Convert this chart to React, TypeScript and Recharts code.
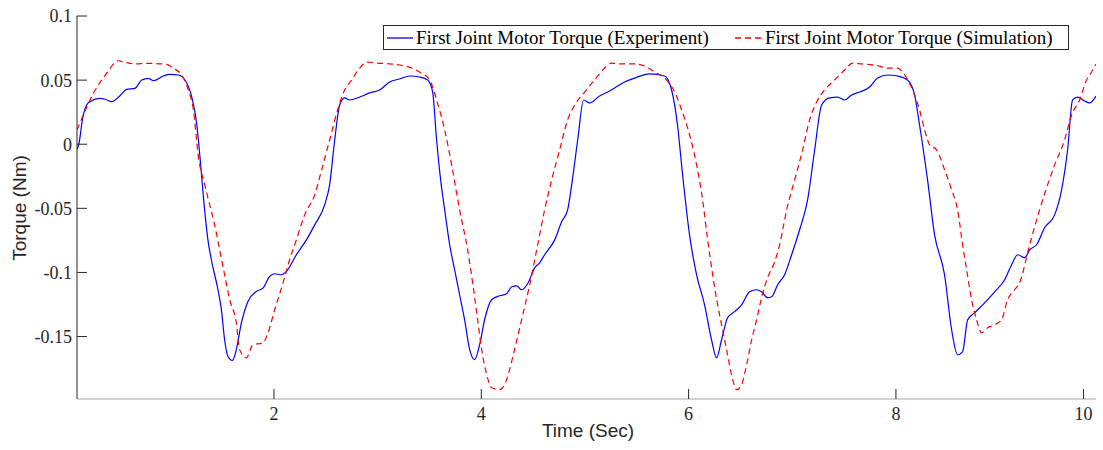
import { LineChart, Line, XAxis, YAxis, Legend } from 'recharts';

// time (s) and torque (Nm)
const expTime = [
  0.1, 0.12, 0.155, 0.193, 0.225, 0.322, 0.377, 0.434, 0.512, 0.579,
  0.659, 0.724, 0.788, 0.837, 0.933, 0.997, 1.078, 1.142, 1.206, 1.254,
  1.286, 1.322, 1.363, 1.396, 1.46, 1.493, 1.524, 1.556, 1.599, 1.637,
  1.686, 1.749, 1.83, 1.894, 1.959, 2.007, 2.071, 2.12, 2.216, 2.313,
  2.393, 2.489, 2.537, 2.586, 2.634, 2.682, 2.73, 2.827, 2.923, 3.02,
  3.116, 3.212, 3.309, 3.405, 3.483, 3.531, 3.569, 3.608, 3.647, 3.695,
  3.743, 3.791, 3.839, 3.888, 3.936, 3.984, 4.032, 4.1, 4.177, 4.245,
  4.293, 4.341, 4.389, 4.447, 4.515, 4.563, 4.611, 4.708, 4.775, 4.833,
  4.872, 4.93, 4.987, 5.045, 5.141, 5.218, 5.286, 5.382, 5.479, 5.624,
  5.768, 5.836, 5.893, 5.942, 6.009, 6.077, 6.154, 6.221, 6.27, 6.318,
  6.376, 6.444, 6.511, 6.588, 6.656, 6.704, 6.762, 6.801, 6.859, 6.926,
  6.994, 7.071, 7.148, 7.216, 7.283, 7.36, 7.437, 7.505, 7.572, 7.65,
  7.746, 7.823, 7.92, 8.016, 8.112, 8.18, 8.228, 8.305, 8.373, 8.469,
  8.537, 8.595, 8.643, 8.692, 8.759, 8.856, 8.952, 9.049, 9.116, 9.174,
  9.242, 9.29, 9.357, 9.434, 9.531, 9.598, 9.656, 9.704, 9.752, 9.82,
  9.868, 9.93,
];
const expTorque = [
  -0.004, 0.001, 0.0205, 0.0306, 0.0332, 0.0358, 0.0349, 0.0332, 0.0376, 0.0428,
  0.0436, 0.0501, 0.0514, 0.0495, 0.0532, 0.0545, 0.054, 0.0501, 0.0371, 0.0164,
  -0.0097, -0.0434, -0.0746, -0.0901, -0.1135, -0.129, -0.1525, -0.1655, -0.1686, -0.1602,
  -0.1394, -0.1226, -0.1148, -0.1122, -0.1031, -0.101, -0.1018, -0.0992, -0.0862, -0.0746,
  -0.0629, -0.0473, -0.0317, 0.0033, 0.0306, 0.0361, 0.0345, 0.0368, 0.04, 0.0423,
  0.0485, 0.0509, 0.0532, 0.0524, 0.0501, 0.0407, 0.0033, -0.0278, -0.0512, -0.0784,
  -0.0979, -0.1174, -0.1369, -0.1602, -0.168, -0.1563, -0.1369, -0.1213, -0.1182, -0.1166,
  -0.1112, -0.1104, -0.1135, -0.1088, -0.0964, -0.0925, -0.0862, -0.0746, -0.0605, -0.0512,
  -0.0317, 0.0033, 0.0345, 0.0322, 0.0376, 0.0407, 0.0439, 0.0485, 0.0516, 0.0548,
  0.0532, 0.0423, 0.015, -0.0239, -0.0707, -0.1018, -0.1252, -0.1525, -0.1666, -0.1525,
  -0.1353, -0.1306, -0.1252, -0.1151, -0.1135, -0.1151, -0.1197, -0.119, -0.1096, -0.1018,
  -0.0862, -0.0667, -0.0434, -0.0045, 0.0306, 0.0361, 0.0368, 0.0345, 0.0384, 0.0407,
  0.0446, 0.0516, 0.054, 0.0532, 0.0501, 0.0384, 0.015, -0.0278, -0.0707, -0.1018,
  -0.1447, -0.1642, -0.1619, -0.1369, -0.1315, -0.1237, -0.1151, -0.1057, -0.094, -0.0862,
  -0.0885, -0.0823, -0.0784, -0.0652, -0.0551, -0.0356, -0.0045, 0.0345, 0.0368, 0.0337,
  0.0322, 0.0376,
];

const simTime = [
  0.1, 0.161, 0.258, 0.386, 0.499, 0.547, 0.659, 0.772, 0.965, 1.03,
  1.11, 1.174, 1.223, 1.271, 1.332, 1.38, 1.428, 1.476, 1.524, 1.573,
  1.637, 1.669, 1.734, 1.797, 1.894, 1.942, 2.007, 2.087, 2.151, 2.216,
  2.296, 2.393, 2.46, 2.537, 2.614, 2.682, 2.75, 2.827, 2.904, 3.0,
  3.116, 3.212, 3.328, 3.405, 3.502, 3.569, 3.647, 3.714, 3.791, 3.868,
  3.926, 3.965, 4.004, 4.052, 4.1, 4.177, 4.225, 4.273, 4.321, 4.389,
  4.467, 4.544, 4.611, 4.679, 4.756, 4.833, 4.901, 4.997, 5.093, 5.19,
  5.257, 5.354, 5.479, 5.576, 5.672, 5.769, 5.865, 5.933, 6.01, 6.077,
  6.135, 6.184, 6.232, 6.28, 6.328, 6.376, 6.425, 6.463, 6.511, 6.56,
  6.608, 6.656, 6.704, 6.762, 6.83, 6.878, 6.946, 7.023, 7.1, 7.167,
  7.235, 7.312, 7.408, 7.505, 7.582, 7.669, 7.794, 7.92, 8.016, 8.084,
  8.161, 8.228, 8.277, 8.325, 8.392, 8.47, 8.537, 8.595, 8.643, 8.682,
  8.73, 8.778, 8.826, 8.884, 8.952, 9.019, 9.077, 9.145, 9.193, 9.29,
  9.386, 9.463, 9.531, 9.627, 9.695, 9.772, 9.839, 9.887, 9.93,
];
const simTorque = [
  0.0111, 0.0228, 0.0397, 0.0553, 0.0651, 0.0643, 0.0626, 0.0631, 0.0623, 0.0592,
  0.054, 0.0423, 0.0267, -0.0097, -0.0317, -0.0473, -0.0629, -0.0823, -0.1018, -0.1213,
  -0.1394, -0.1602, -0.1667, -0.1563, -0.155, -0.1472, -0.1291, -0.1083, -0.0901, -0.0746,
  -0.0551, -0.0395, -0.02, 0.0033, 0.0267, 0.0423, 0.0501, 0.0594, 0.0641, 0.0633,
  0.0626, 0.0618, 0.0594, 0.0563, 0.0501, 0.0345, 0.0111, -0.0161, -0.0512, -0.0823,
  -0.1135, -0.1369, -0.1602, -0.1797, -0.1899, -0.1914, -0.1875, -0.1758, -0.1602, -0.1369,
  -0.1096, -0.0784, -0.0512, -0.0278, -0.0044, 0.019, 0.0306, 0.0407, 0.0501, 0.0594,
  0.0633, 0.0626, 0.0626, 0.061, 0.0563, 0.0516, 0.0407, 0.0267, 0.0072, -0.0161,
  -0.0434, -0.0746, -0.1018, -0.1252, -0.1447, -0.1642, -0.1836, -0.1914, -0.1875, -0.1719,
  -0.1525, -0.1369, -0.1197, -0.1041, -0.0917, -0.0784, -0.0512, -0.0278, -0.0044, 0.019,
  0.0329, 0.0423, 0.0501, 0.0579, 0.0633, 0.0626, 0.0618, 0.0594, 0.0594, 0.054,
  0.0423, 0.0267, 0.0111, -0.0005, -0.0044, -0.02, -0.0356, -0.0512, -0.0784, -0.0979,
  -0.1213, -0.1369, -0.147, -0.1431, -0.1408, -0.1369, -0.1213, -0.1135, -0.108, -0.0784,
  -0.0512, -0.0317, -0.0161, 0.0033, 0.0228, 0.0345, 0.0501, 0.0563, 0.0626,
];

const yTicks = [-0.15, -0.1, -0.05, 0, 0.05, 0.1];
// the figure's "10" tick sits a little left of where 10 s would fall
const xTicks = [2, 4, 6, 8, 9.81];

const expData = expTime.map((t, i) => ({ t, v: expTorque[i] }));
const simData = simTime.map((t, i) => ({ t, v: simTorque[i] }));

const serif = '"Liberation Serif", "Times New Roman", serif';
const sans = '"Liberation Sans", Arial, sans-serif';
const axisColor = '#262626';

function LegendBox() {
  return (
    <div
      style={{
        position: 'relative',
        width: 684,
        height: 23,
        border: '1px solid #262626',
        background: '#fff',
        fontFamily: serif,
        fontSize: 19,
        color: '#000',
        whiteSpace: 'nowrap',
      }}
    >
      <svg width={30} height={23} style={{ position: 'absolute', left: 3, top: 0 }}>
        <line x1={0} x2={26} y1={12} y2={12} stroke="#0000ff" strokeWidth={1.3} />
      </svg>
      <span style={{ position: 'absolute', left: 32, top: 0, lineHeight: '23px' }}>
        First Joint Motor Torque (Experiment)
      </span>
      <svg width={30} height={23} style={{ position: 'absolute', left: 351, top: 0 }}>
        <line x1={0} x2={28} y1={12} y2={12} stroke="#ff0000" strokeWidth={1.3} strokeDasharray="6 4" />
      </svg>
      <span style={{ position: 'absolute', left: 381, top: 0, lineHeight: '23px' }}>
        First Joint Motor Torque (Simulation)
      </span>
    </div>
  );
}

export default function App() {
  return (
    <div style={{ position: 'absolute', left: 0, top: 0, width: 1103, height: 450, background: '#fff' }}>
      <LineChart width={1103} height={450} margin={{ top: 16, right: 7, bottom: 21, left: 17 }}>
        <XAxis
          type="number"
          dataKey="t"
          domain={[0.1, 9.93]}
          allowDataOverflow
          ticks={xTicks}
          interval={0}
          tickFormatter={(v: number) => String(Math.round(v))}
          tickSize={-10}
          tickMargin={18}
          axisLine={{ stroke: '#a6a6a6' }}
          tickLine={{ stroke: axisColor }}
          tick={{ fill: axisColor, fontFamily: serif, fontSize: 18 }}
          height={30}
          label={() => (
            <text x={588} y={437} textAnchor="middle" fontFamily={sans} fontSize={19} fill="#262626">
              Time (Sec)
            </text>
          )}
        />
        <YAxis
          type="number"
          domain={[-0.1987, 0.1]}
          allowDataOverflow
          ticks={yTicks}
          interval={0}
          tickFormatter={(v: number) => String(v)}
          tickSize={-10}
          tickMargin={15}
          axisLine={{ stroke: axisColor }}
          tickLine={{ stroke: axisColor }}
          tick={{ fill: axisColor, fontFamily: serif, fontSize: 18 }}
          width={60}
          label={() => (
            <text
              x={26}
              y={208}
              transform="rotate(-90 26 208)"
              textAnchor="middle"
              fontFamily={sans}
              fontSize={19}
              fill="#262626"
            >
              Torque (Nm)
            </text>
          )}
        />
        <Legend
          layout="vertical"
          align="center"
          verticalAlign="middle"
          wrapperStyle={{ left: 383, top: 25, width: 686, height: 25 }}
          content={() => <LegendBox />}
        />
        <Line
          data={expData}
          dataKey="v"
          type="monotone"
          stroke="#0000ff"
          strokeWidth={1.2}
          dot={false}
          activeDot={false}
          isAnimationActive={false}
        />
        <Line
          data={simData}
          dataKey="v"
          type="monotone"
          stroke="#ff0000"
          strokeWidth={1.2}
          strokeDasharray="6 4"
          dot={false}
          activeDot={false}
          isAnimationActive={false}
        />
      </LineChart>
    </div>
  );
}
